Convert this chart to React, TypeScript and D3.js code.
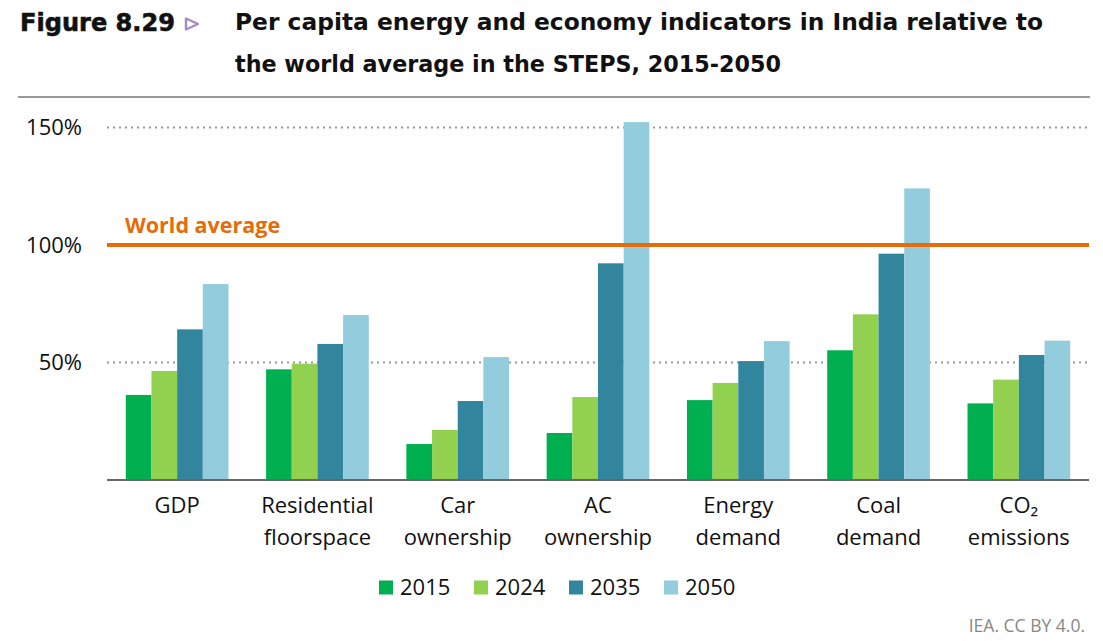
import React from "react";
import * as d3 from "d3";

const categories = [
  ["GDP"],
  ["Residential", "floorspace"],
  ["Car", "ownership"],
  ["AC", "ownership"],
  ["Energy", "demand"],
  ["Coal", "demand"],
  ["CO₂", "emissions"],
];
const years = ["2015", "2024", "2035", "2050"];
const yearColors = ["#00b050", "#92d050", "#31859c", "#93cddd"];

// per capita value as % of world average, one array per year
const v2015 = [36.2, 47.1, 15.3, 20.0, 34.0, 55.2, 32.6];
const v2024 = [46.4, 49.5, 21.3, 35.3, 41.3, 70.5, 42.7];
const v2035 = [64.1, 57.9, 33.6, 92.2, 50.6, 96.3, 53.2];
const v2050 = [83.4, 70.2, 52.3, 152.3, 59.1, 124.1, 59.3];
const series = [v2015, v2024, v2035, v2050];

const yTicks = [50, 100, 150];
const worldAverage = 100;

const W = 1103;
const H = 641;
const left = 107;
const right = 1089;
const base = 480;
const top = 127.5;
const font = "'Open Sans', sans-serif";
const titleFont = "'DejaVu Sans', sans-serif";

export default function App() {
  const keys = categories.map((c) => c.join(" "));
  const x = d3
    .scaleBand<string>()
    .domain(keys)
    .range([left, right])
    .paddingInner(0.268)
    .paddingOuter(0.134);
  const xi = d3.scaleBand<string>().domain(years).range([0, x.bandwidth()]);
  const y = d3.scaleLinear().domain([0, 150]).range([base, top]);

  return (
    <svg
      width={W}
      height={H}
      style={{ position: "absolute", left: 0, top: 0, background: "#fff" }}
    >
      {/* heading */}
      <text
        x={20}
        y={31}
        fontFamily={titleFont}
        fontWeight={700}
        fontSize={25}
        fill="#111"
        stroke="#111"
        strokeWidth={0.6}
        textLength={155}
        lengthAdjust="spacingAndGlyphs"
      >
        Figure 8.29
      </text>
      <path d="M186,18.5 L198,24 L186,29.5 Z" fill="none" stroke="#a58bc4" strokeWidth={2.4} strokeLinejoin="round" />
      <g fontFamily={titleFont} fontWeight={700} fontSize={23} fill="#111">
        <text x={235} y={30} textLength={808} lengthAdjust="spacingAndGlyphs">
          Per capita energy and economy indicators in India relative to
        </text>
        <text x={235} y={72} textLength={546} lengthAdjust="spacingAndGlyphs">
          the world average in the STEPS, 2015-2050
        </text>
      </g>
      <line x1={18} x2={1090} y1={97} y2={97} stroke="#999" strokeWidth={2} />

      {/* gridlines */}
      {yTicks
        .filter((t) => t !== worldAverage)
        .map((t) => (
          <line
            key={t}
            x1={left}
            x2={right}
            y1={y(t)}
            y2={y(t)}
            stroke="#999"
            strokeWidth={2}
            strokeDasharray="2,4"
          />
        ))}
      {yTicks.map((t) => (
        <text
          key={t}
          x={82}
          y={y(t)}
          dy="0.36em"
          textAnchor="end"
          fontFamily={font}
          fontSize={22}
          fill="#111"
        >
          {t}%
        </text>
      ))}

      {/* bars */}
      {keys.map((k, i) => (
        <g key={k} transform={`translate(${x(k)},0)`}>
          {series.map((s, j) => (
            <rect
              key={j}
              x={xi(years[j])}
              y={y(s[i])}
              width={xi.bandwidth()}
              height={base - y(s[i])}
              fill={yearColors[j]}
            />
          ))}
        </g>
      ))}

      {/* world average reference */}
      <line
        x1={left}
        x2={right}
        y1={y(worldAverage)}
        y2={y(worldAverage)}
        stroke="#e46c0a"
        strokeWidth={4}
      />
      <text x={125} y={y(worldAverage) - 12} fontFamily={font} fontWeight={700} fontSize={21.5} fill="#e46c0a">
        World average
      </text>

      <line x1={left} x2={right} y1={base} y2={base} stroke="#666" strokeWidth={2} />

      {/* category labels */}
      {categories.map((lines, i) => (
        <text
          key={i}
          textAnchor="middle"
          fontFamily={font}
          fontSize={22}
          fill="#111"
        >
          {lines.map((l, n) => (
            <tspan key={n} x={(x(keys[i]) as number) + x.bandwidth() / 2} y={513 + n * 32}>
              {l}
            </tspan>
          ))}
        </text>
      ))}

      {/* legend */}
      {years.map((yr, j) => (
        <g key={yr} transform={`translate(${379 + j * 95},580.5)`}>
          <rect width={14} height={14} fill={yearColors[j]} />
          <text x={21} y={14.5} fontFamily={font} fontSize={22} fill="#111">
            {yr}
          </text>
        </g>
      ))}

      <text x={1085} y={632} textAnchor="end" fontFamily={font} fontSize={17.5} fill="#888">
        IEA. CC BY 4.0.
      </text>
    </svg>
  );
}
